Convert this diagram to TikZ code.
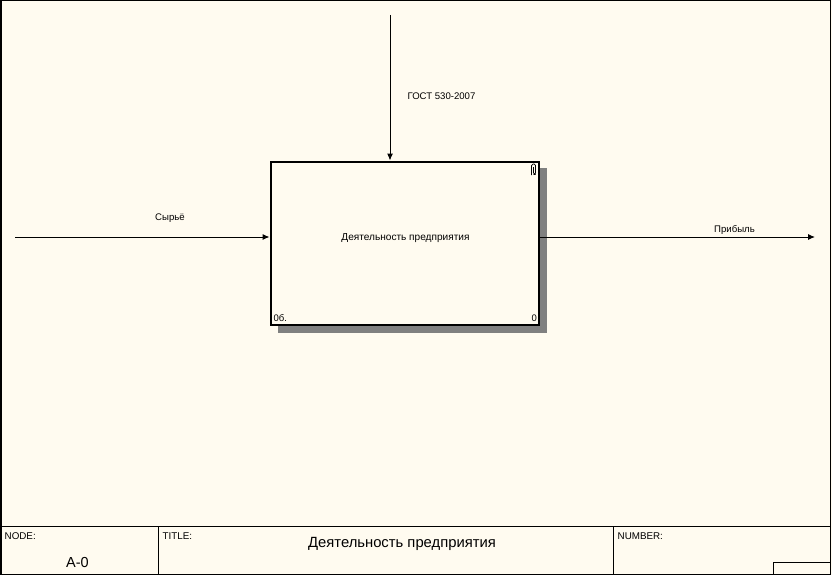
\documentclass[tikz,border=0pt]{standalone}
\usepackage{fontspec}
\setmainfont{Liberation Sans}
\usetikzlibrary{arrows.meta}
\definecolor{paper}{RGB}{255,251,240}
\begin{document}
\begin{tikzpicture}[x=1pt,y=-1pt,
  arr/.style={line width=1pt,-{Latex[length=7pt,width=6pt]}},
  lbl/.style={font=\fontsize{9.6}{11}\selectfont,inner sep=0pt},
  small/.style={font=\fontsize{9.8}{11}\selectfont,inner sep=0pt,anchor=west},
  tiny/.style={font=\fontsize{9.5}{10}\selectfont,inner sep=0pt,anchor=west}]
\useasboundingbox (0,0) rectangle (832,575);
\fill[paper] (0,0) rectangle (832,575);
% outer frame
\draw[line width=1.5pt] (0.75,0.75) rectangle (830.5,574.25);
% shadow
\fill[black!50] (278,168) rectangle (547,333);
% activity box
\node[draw,line width=2pt,fill=paper,minimum width=268pt,minimum height=163pt,inner sep=0pt] (box) at (404.5,243) {};
\node[font=\fontsize{10.1}{11}\selectfont,inner sep=0pt] (boxtext) at (405.5,238.5) {Деятельность предприятия};
\node[tiny] (cost) at (273.5,318.5) {0б.};
\node[tiny,anchor=east] (num) at (537,318.5) {0};
% paperclip
\draw[line width=0.7pt,rounded corners=1.5pt] (531.5,175) -- (531.5,164) -- (535.5,164) -- (535.5,174.5) -- (533.5,174.5) -- (533.5,167);
% arrows
\coordinate (inp) at (15,237);
\coordinate (ctl) at (390,15);
\coordinate (outp) at (815,237);
\draw[arr] (inp) -- (inp -| box.west);
\draw[arr] (ctl) -- (ctl |- box.north);
\draw[arr] (box.east |- outp) -- (outp);
\node[lbl] (linp) at (170,218) {Сырьё};
\node[lbl] (lctl) at (441.5,96) {ГОСТ 530-2007};
\node[lbl] (lout) at (734.5,230) {Прибыль};
% title block
\draw[line width=1pt] (0.75,526.5) -- (830.5,526.5);
\draw[line width=1pt] (158.5,526.5) -- (158.5,574);
\draw[line width=1pt] (613.5,526.5) -- (613.5,574);
\draw[line width=1pt] (773.5,574) |- (830.5,562);
\node[small] (node) at (4.5,536.5) {NODE:};
\node[font=\fontsize{14.5}{16}\selectfont,inner sep=0pt] (nodeval) at (77.5,563) {A-0};
\node[small] (title) at (162.5,536.5) {TITLE:};
\node[font=\fontsize{14.8}{16}\selectfont,inner sep=0pt] (titleval) at (402,543.5) {Деятельность предприятия};
\node[small] (number) at (617.5,536.5) {NUMBER:};
\end{tikzpicture}
\end{document}
